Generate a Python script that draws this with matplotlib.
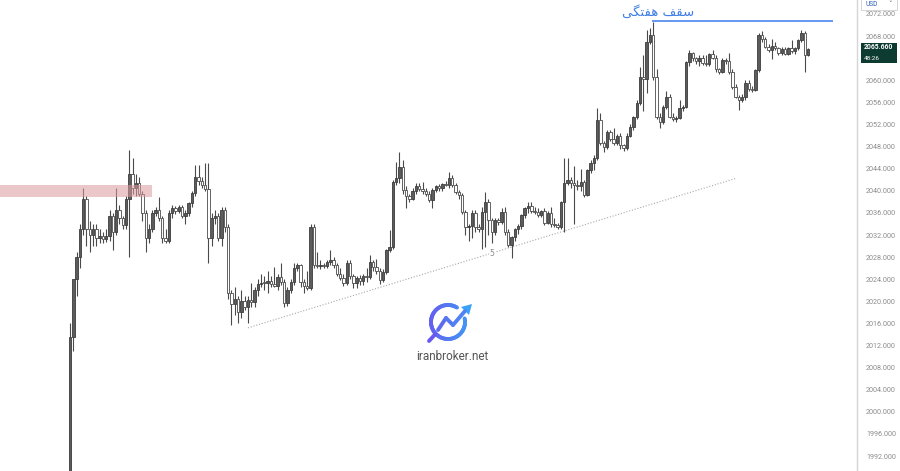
#!/usr/bin/env python3
"""
Gold (XAU/USD) candlestick chart with weekly top, supply zone and trend line
"""
import matplotlib
matplotlib.use('Agg')  # no display
import matplotlib.pyplot as plt
import matplotlib.transforms as mtransforms
from matplotlib.patches import Rectangle, Polygon
from matplotlib.collections import LineCollection
from matplotlib.colors import LinearSegmentedColormap
from matplotlib.ticker import FuncFormatter
import numpy as np

# ---- candle data (price) ----
opens = [
    1988, 2013.5, 2024, 2028, 2033, 2038.5, 2033, 2032, 2033, 2031.5,
    2031.8, 2031.2, 2031.8, 2035.5, 2032.5, 2036.5, 2035, 2033.8, 2038.5,
    2043, 2040.5, 2041.5, 2039.5, 2036, 2031.5, 2033, 2036, 2036.5, 2035,
    2031.5, 2031, 2036, 2036.8, 2036.3, 2037, 2035.5, 2036, 2037.8, 2039.6,
    2042.5, 2041.8, 2041, 2040.3, 2031.5, 2035, 2035.5, 2031.5, 2036.5, 2033.5,
    2021.5, 2019.5, 2020.5, 2018, 2020, 2019, 2020.2, 2019.8, 2022, 2023.2,
    2023.4, 2023.3, 2023.6, 2023.2, 2022.8, 2024.4, 2023.5, 2019.7, 2022, 2023.5,
    2026, 2026.5, 2023.5, 2022.8, 2022.4, 2033.4, 2026.6, 2026.4, 2026.6, 2026.3,
    2027.2, 2027.5, 2026.5, 2025, 2024.3, 2023.4, 2027, 2024.5, 2023.4, 2024.2,
    2023.6, 2024.6, 2024.4, 2027.2, 2026.2, 2025.5, 2023.8, 2025.3, 2029.3, 2029.8,
    2041.6, 2042.3, 2044.3, 2040.2, 2039, 2038.6, 2040, 2040.8, 2040.3, 2040,
    2039.5, 2038.4, 2040.2, 2040.8, 2040.5, 2041.2, 2041, 2042.3, 2041, 2039.8,
    2039.2, 2036.2, 2033.4, 2033.6, 2036, 2033.4, 2033.1, 2036.2, 2038, 2034.7,
    2032.5, 2034.7, 2034.3, 2036.2, 2032.5, 2030.2, 2031.6, 2033, 2033.6, 2035.6,
    2036.9, 2037.3, 2036.4, 2036.2, 2035.6, 2036.4, 2034.2, 2036, 2034, 2033.8,
    2033.5, 2038, 2041.4, 2042, 2041.4, 2041, 2040.8, 2041.6, 2039.2, 2043.8, 2045, 2046,
    2052.8, 2048.6, 2048, 2050.6, 2049.3, 2048.6, 2050, 2048.2, 2047.8, 2050,
    2051.5, 2053.4, 2055.9, 2060.6, 2060.2, 2067, 2068.2, 2060.6, 2053.4, 2052.5,
    2055.2, 2057, 2053.4, 2053, 2053.2, 2055, 2055.2, 2063.3, 2064.9, 2064,
    2063.5, 2064, 2063.2, 2063, 2064.8, 2064, 2062, 2061.5, 2063.7, 2063.4,
    2061.5, 2058.8, 2057, 2056.5, 2057, 2059.5, 2058.5, 2058.2, 2061.9, 2068.2,
    2067.5, 2066, 2065.5, 2066.2, 2065.8, 2065, 2065.6, 2064.8, 2065.8, 2065.3,
    2065.8, 2067.3, 2068.6, 2064.6,
]
highs = [
    2016, 2017, 2029, 2034, 2040.5, 2039, 2034.5, 2034, 2034, 2033,
    2032.5, 2033, 2036.5, 2036, 2040.5, 2037.5, 2035.5, 2039, 2047.4,
    2046, 2043, 2042.5, 2040, 2036.5, 2034, 2036.5, 2037, 2038.8, 2035.5,
    2033, 2036.5, 2037.5, 2037.2, 2037.5, 2037.5, 2036.5, 2038, 2040, 2044.7,
    2044.7, 2042.5, 2045, 2045, 2036, 2036.5, 2036, 2037, 2037, 2034,
    2022, 2022.5, 2021, 2022, 2021, 2021, 2023.3, 2022.5, 2024, 2025,
    2024.5, 2025.5, 2024.5, 2026.2, 2025, 2027, 2024, 2022.5, 2024, 2027,
    2027, 2026.8, 2024, 2025.5, 2034, 2034, 2029, 2027.5, 2027, 2027.5,
    2029.3, 2028, 2027, 2026, 2025, 2027.5, 2027.5, 2025, 2024.5, 2024.8,
    2025, 2026, 2028.4, 2027.5, 2027.6, 2026, 2025.8, 2029.5, 2032.9, 2042,
    2045.2, 2047, 2045.5, 2040.8, 2039.5, 2040.5, 2041.5, 2041.4, 2041.6, 2040.5,
    2040, 2040.5, 2041, 2041.2, 2041.5, 2041.8, 2043.4, 2042.8, 2041.5, 2040.2,
    2039.6, 2036.5, 2034, 2036.5, 2036.5, 2034, 2037, 2039.8, 2038.5, 2035,
    2035, 2035, 2036.8, 2037, 2033, 2031.8, 2033.2, 2034, 2035.8, 2037,
    2038, 2038, 2037, 2036.8, 2036.6, 2036.8, 2036.4, 2037, 2035, 2034.2,
    2038.2, 2046, 2046, 2042.5, 2044.5, 2042, 2044, 2042, 2044, 2045.5, 2046.5, 2055,
    2054, 2049, 2051, 2051, 2051.3, 2050.3, 2050.5, 2048.5, 2050.5, 2052,
    2053.6, 2056.5, 2062.4, 2064.5, 2069.1, 2069.5, 2070.5, 2062, 2054, 2055.5,
    2058, 2057.5, 2054, 2053.5, 2056.5, 2055.5, 2063.5, 2065.5, 2065.2, 2064.2,
    2064.5, 2064.5, 2064.5, 2065, 2065.5, 2064.5, 2062.3, 2064, 2064, 2065,
    2062, 2059.3, 2057.3, 2057.5, 2060, 2060, 2059, 2062, 2068.6, 2069,
    2067.8, 2066.5, 2067.5, 2067, 2066, 2066, 2066, 2066, 2067.3, 2066,
    2067.5, 2069.1, 2069, 2065.8,
]
lows = [
    1985, 2011, 2021, 2026, 2032, 2030, 2029, 2030, 2030, 2030.5,
    2030.5, 2030.8, 2031, 2029.3, 2032, 2034, 2033, 2033, 2028,
    2039.5, 2039, 2039, 2034.5, 2029, 2030.5, 2032.5, 2035.5, 2034.5, 2030.5,
    2030.5, 2030.5, 2035, 2035.8, 2036, 2035, 2034, 2035.5, 2037, 2039,
    2041, 2040.5, 2040, 2027, 2030, 2034, 2031, 2030, 2032.5, 2020.5,
    2015.7, 2017.5, 2016, 2017, 2018.5, 2016, 2019, 2019, 2021, 2022.5,
    2022, 2021.5, 2022.5, 2022.5, 2022, 2023, 2019, 2019.2, 2021.5, 2023,
    2025.5, 2022.5, 2021.5, 2022, 2022, 2026, 2026, 2025.8, 2026, 2026,
    2026.5, 2026, 2024.5, 2023.8, 2022.8, 2023, 2024, 2022.4, 2022.4, 2023,
    2023, 2023.5, 2024, 2025.5, 2025, 2023.2, 2023.5, 2025, 2029, 2029.5,
    2041, 2041.5, 2039.5, 2036.9, 2038, 2038.3, 2039.5, 2040, 2039.5, 2039,
    2038, 2036.8, 2039.8, 2040, 2040, 2040.8, 2040.5, 2040.6, 2039.5, 2038.5,
    2035.8, 2032, 2031, 2031.5, 2032.5, 2032.5, 2029.5, 2029.8, 2032, 2030.5,
    2032, 2033.8, 2034, 2032, 2029.8, 2027.8, 2031, 2032.2, 2033, 2035,
    2036, 2036, 2035.8, 2035.2, 2035.2, 2033.8, 2034, 2033.5, 2033.5, 2033,
    2033, 2032.5, 2041, 2040.5, 2034, 2040.2, 2040, 2038.8, 2039, 2043.2, 2043.8, 2045.6,
    2048.2, 2047, 2047.5, 2049, 2048.3, 2048.3, 2047.5, 2047.2, 2047.4, 2049.7,
    2051, 2053, 2055.5, 2054.5, 2057.7, 2066.5, 2060, 2053, 2051.4, 2052,
    2054.8, 2053.2, 2052.6, 2052.5, 2053, 2054.5, 2055, 2062.5, 2063.5, 2063,
    2062.5, 2062.8, 2062.5, 2062.5, 2063.8, 2061.5, 2061.2, 2061.3, 2063, 2061.2,
    2058.5, 2056.8, 2054.6, 2056, 2056.5, 2058, 2057.8, 2058, 2061.5, 2067,
    2065.8, 2065.2, 2063.8, 2065.5, 2064.6, 2064.5, 2064.5, 2064.5, 2065, 2064.8,
    2065.5, 2067, 2061.5, 2064.4,
]
closes = [
    2013.5, 2024, 2028, 2033, 2038.5, 2033, 2032, 2033, 2031.5, 2031.8,
    2031.2, 2031.8, 2035.5, 2032.5, 2036.5, 2035, 2033.8, 2038.5, 2043,
    2040.5, 2041.5, 2039.5, 2036, 2031.5, 2033, 2036, 2036.5, 2035, 2031.5,
    2031, 2036, 2036.8, 2036.3, 2037, 2035.5, 2036, 2037.8, 2039.6, 2042.5,
    2041.8, 2041, 2040.3, 2031.5, 2035, 2035.5, 2031.5, 2036.5, 2033.5, 2021.5,
    2019.5, 2020.5, 2018, 2020, 2019, 2020.2, 2019.8, 2022, 2023.2, 2023.4,
    2023.3, 2023.6, 2023.2, 2022.8, 2024.4, 2023.5, 2019.7, 2022, 2023.5, 2026,
    2026.5, 2023.5, 2022.8, 2022.4, 2033.4, 2026.6, 2026.4, 2026.6, 2026.3, 2027.2,
    2027.5, 2026.5, 2025, 2024.3, 2023.4, 2027, 2024.5, 2023.4, 2024.2, 2023.6,
    2024.6, 2024.4, 2027.2, 2026.2, 2025.5, 2023.8, 2025.3, 2029.3, 2029.8, 2041.6,
    2042.3, 2044.3, 2040.2, 2039, 2038.6, 2040, 2040.8, 2040.3, 2040, 2039.5,
    2038.4, 2040.2, 2040.8, 2040.5, 2041.2, 2041, 2042.3, 2041, 2039.8, 2039.2,
    2036.2, 2033.4, 2033.6, 2036, 2033.4, 2033.1, 2036.2, 2038, 2034.7, 2032.5,
    2034.7, 2034.3, 2036.2, 2032.5, 2030.2, 2031.6, 2033, 2033.6, 2035.6, 2036.9,
    2037.3, 2036.4, 2036.2, 2035.6, 2036.4, 2034.2, 2036, 2034, 2033.8, 2033.5,
    2038, 2041.4, 2042, 2041.4, 2041, 2040.8, 2041.6, 2039.2, 2043.8, 2045, 2046, 2052.8,
    2048.6, 2048, 2050.6, 2049.3, 2048.6, 2050, 2048.2, 2047.8, 2050, 2051.5,
    2053.4, 2055.9, 2060.6, 2060.2, 2067, 2068.2, 2060.6, 2053.4, 2052.5, 2055.2,
    2057, 2053.4, 2053, 2053.2, 2055, 2055.2, 2063.3, 2064.9, 2064, 2063.5,
    2064, 2063.2, 2063, 2064.8, 2064, 2062, 2061.5, 2063.7, 2063.4, 2061.5,
    2058.8, 2057, 2056.5, 2057, 2059.5, 2058.5, 2058.2, 2061.9, 2068.2, 2067.5,
    2066, 2065.5, 2066.2, 2065.8, 2065, 2065.6, 2064.8, 2065.8, 2065.3, 2065.8,
    2067.3, 2068.6, 2064.6, 2065.66,
]

# price axis labels (2064 sits under the last-price tag)
price_ticks = [1992, 1996, 2000, 2004, 2008, 2012, 2016, 2020, 2024, 2028,
               2032, 2036, 2040, 2044, 2048, 2052, 2056, 2060, 2068, 2072]

# drawings on the chart
zone_low, zone_high, zone_end = 2038.9, 2041.1, 24.9      # supply zone (red)
weekly_top, weekly_top_start = 2070.7, 176.6             # blue line
weekly_top_label = '\uFBFD\uFB95\uFE98\uFED4\uFEEB \uFED2\uFED8\uFEB3'  # سقف هفتگی
trend_x = [54.0, 202.4]
trend_y = [2015.2, 2042.3]
trend_label, trend_label_x, trend_label_y = '5', 128.1, 2028.6
last_price_text = '2065.660'
timer_text = '48:26'

# ---- layout (pixels of the 900x471 picture) ----
CANDLE_PX = 3.295
FIRST_PX = 70
AXIS_PX = 857

fig = plt.figure(figsize=(9, 4.71), dpi=100)
ax = fig.add_axes([0, 0, AXIS_PX / 900, 1])
ax.set_xlim(-FIRST_PX / CANDLE_PX, (AXIS_PX - FIRST_PX) / CANDLE_PX)
ax.set_ylim(1989.29, 2074.53)

o = np.array(opens)
h = np.array(highs)
l = np.array(lows)
c = np.array(closes)
idx = np.arange(len(c))
up = c >= o

# wicks then bodies
ax.vlines(idx, l, h, color='#4a4a4a', lw=0.8, zorder=2)
bottom = np.minimum(o, c)
height = np.maximum(np.abs(c - o), 0.15)
ax.bar(idx[up], height[up], bottom=bottom[up], width=0.74,
       color='#5c5c5c', edgecolor='#3c3c3c', linewidth=0.6, zorder=3)
ax.bar(idx[~up], height[~up], bottom=bottom[~up], width=0.74,
       color='white', edgecolor='#4a4a4a', linewidth=0.6, zorder=3)

# supply zone
x_left = ax.get_xlim()[0]
ax.add_patch(Rectangle((x_left, zone_low), zone_end - x_left, zone_high - zone_low,
                       facecolor='#de9aa0', alpha=0.55, lw=0, zorder=4))

# weekly top
ax.hlines(weekly_top, weekly_top_start, 231.6, color='#5b8ff0', lw=1.3, zorder=4)
ax.text(178.5, 2072.3, weekly_top_label, color='#3f7fe8', fontsize=9.5,
        family=['DejaVu Sans'], ha='center', va='center', zorder=5)

# trend line
ax.plot(trend_x, trend_y, color='#a8a8a8', lw=0.8, ls=(0, (1, 1.6)), zorder=1)
ax.text(trend_label_x, trend_label_y, trend_label, fontsize=5.5, color='#888888',
        ha='center', va='center', zorder=2,
        bbox=dict(facecolor='white', edgecolor='none', pad=0.3))

# price axis
ax.yaxis.tick_right()
ax.set_yticks(price_ticks)
ax.yaxis.set_major_formatter(FuncFormatter(lambda v, _: f'{v:.3f}'))
ax.tick_params(axis='y', length=0, pad=6.5, labelsize=5.2, labelcolor='#8c8c8c')
for lab in ax.get_yticklabels():
    lab.set_family('Roboto')
ax.set_xticks([])
for side in ['top', 'left', 'bottom']:
    ax.spines[side].set_visible(False)
ax.spines['right'].set_color('#d6d6d6')
ax.spines['right'].set_linewidth(1)

# last price tag
trans = mtransforms.blended_transform_factory(ax.transAxes, ax.transData)
ax.add_patch(Rectangle((1.005, 2063.1), 0.042, 3.6, transform=trans,
                       facecolor='#0d3a31', edgecolor='none', clip_on=False, zorder=6))
ax.text(1.008, 2066.05, last_price_text, transform=trans, color='white', fontsize=4.9,
        fontweight='bold', family='Roboto', ha='left', va='center', clip_on=False, zorder=7)
ax.text(1.008, 2063.95, timer_text, transform=trans, color='white', fontsize=4.6,
        family='Roboto', ha='left', va='center', clip_on=False, zorder=7)

# overlay in pixel units for watermark and currency box
ov = fig.add_axes([0, 0, 1, 1], zorder=10)
ov.set_xlim(0, 900)
ov.set_ylim(471, 0)
ov.axis('off')
ov.patch.set_alpha(0)

ov.add_patch(Rectangle((861, -1), 36, 11, facecolor='white', edgecolor='#cfcfcf', lw=0.6))
ov.text(865, 4.5, 'USD', fontsize=4.8, color='#2f5fb3', family='Roboto',
        ha='left', va='center')
ov.text(890, 4, '\u02c5', fontsize=5, color='#555555', ha='center', va='center')

# iranbroker logo
cmap = LinearSegmentedColormap.from_list('logo', ['#6a58ef', '#3aa3f5'])
cx, cy, r = 448, 322, 17
ang = np.radians(np.linspace(58, 372, 80))
px = cx + r * np.cos(ang)
py = cy - r * np.sin(ang)
segs = np.stack([np.column_stack([px[:-1], py[:-1]]), np.column_stack([px[1:], py[1:]])], axis=1)
lc = LineCollection(segs, colors=cmap((px[:-1] - 425) / 50), lw=2.8, capstyle='round')
ov.add_collection(lc)
ov.plot([435, 429], [334.5, 341], color='#6a58ef', lw=2.8, solid_capstyle='round')
zx = [438, 446, 453, 465]
zy = [330, 318, 325, 311]
for i in range(3):
    ov.plot(zx[i:i + 2], zy[i:i + 2], color=cmap((zx[i] - 425) / 50), lw=2.8,
            solid_capstyle='round', solid_joinstyle='round')
ov.add_patch(Polygon([[472, 304], [461, 307], [469, 315]], closed=True,
                     facecolor='#3aa3f5', edgecolor='none'))
ov.text(452, 356, 'iranbroker.net', fontsize=8.5, color='#555555', family='Roboto',
        ha='center', va='center')

plt.savefig('out.png', dpi=100)
plt.close()
print('Saved: out.png')
